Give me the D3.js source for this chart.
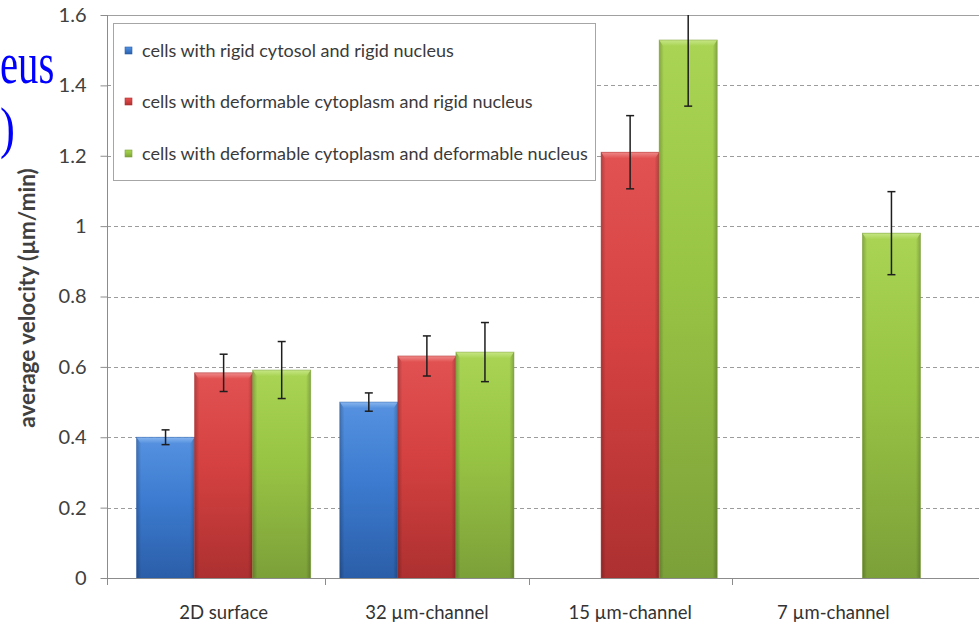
<!DOCTYPE html>
<html>
<head>
<meta charset="utf-8">
<script src="https://cdn.jsdelivr.net/npm/d3@7"></script>
<style>
  html, body { margin: 0; padding: 0; background: #fff; }
  svg { display: block; }
</style>
</head>
<body>
<svg id="chart" width="979" height="627"></svg>
<script>
// ---- data ----
const categories = ["2D surface", "32 µm-channel", "15 µm-channel", "7 µm-channel"];
const seriesNames = [
  "cells with rigid cytosol and rigid nucleus",
  "cells with deformable cytoplasm and rigid nucleus",
  "cells with deformable cytoplasm and deformable nucleus"
];
const rigidRigid      = [0.40, 0.50, null, null];
const rigidRigidErr   = [0.021, 0.026, null, null];
const deformRigid     = [0.583, 0.631, 1.21, null];
const deformRigidErr  = [0.053, 0.057, 0.104, null];
const deformDeform    = [0.591, 0.642, 1.529, 0.98];
const deformDeformErr = [0.081, 0.084, 0.188, 0.118];
const yTicks = [0, 0.2, 0.4, 0.6, 0.8, 1, 1.2, 1.4, 1.6];
const yTitle = "average velocity (µm/min)";

const seriesValues = [rigidRigid, deformRigid, deformDeform];
const seriesErrors = [rigidRigidErr, deformRigidErr, deformDeformErr];
const seriesColors = [
  { top: "#5692e0", mid: "#3c7bd0", bot: "#2b5ea8", hi: "#8fbaf0" },
  { top: "#e25252", mid: "#d54141", bot: "#ad3030", hi: "#f09090" },
  { top: "#a9d454", mid: "#98c444", bot: "#7ca039", hi: "#cbe88c" }
];

const svg = d3.select("#chart");
const W = 979, H = 627;
const axisX = 107, plotTop = 15, plotBottom = 578;
const sans = "Lato, 'Noto Sans', sans-serif";

const x = d3.scaleBand().domain(categories).range([122, 935]).paddingInner(0).paddingOuter(0);
const xs = d3.scaleBand().domain(d3.range(seriesNames.length)).range([0, x.bandwidth()])
  .paddingInner(0).paddingOuter(0.25);
const y = d3.scaleLinear().domain([0, 1.6]).range([plotBottom, plotTop]);

const defs = svg.append("defs");
seriesColors.forEach((c, i) => {
  const v = defs.append("linearGradient").attr("id", "vg" + i)
    .attr("x1", 0).attr("y1", 0).attr("x2", 0).attr("y2", 1);
  v.append("stop").attr("offset", "0%").attr("stop-color", c.top);
  v.append("stop").attr("offset", "45%").attr("stop-color", c.mid);
  v.append("stop").attr("offset", "100%").attr("stop-color", c.bot);
  const t = defs.append("linearGradient").attr("id", "tg" + i)
    .attr("x1", 0).attr("y1", 0).attr("x2", 0).attr("y2", 1);
  t.append("stop").attr("offset", "0%").attr("stop-color", c.hi);
  t.append("stop").attr("offset", "100%").attr("stop-color", c.top);
});
const hg = defs.append("linearGradient").attr("id", "edge")
  .attr("x1", 0).attr("y1", 0).attr("x2", 1).attr("y2", 0);
hg.append("stop").attr("offset", "0%").attr("stop-color", "#000").attr("stop-opacity", 0.22);
hg.append("stop").attr("offset", "8%").attr("stop-color", "#000").attr("stop-opacity", 0.0);
hg.append("stop").attr("offset", "92%").attr("stop-color", "#000").attr("stop-opacity", 0.0);
hg.append("stop").attr("offset", "100%").attr("stop-color", "#000").attr("stop-opacity", 0.22);
defs.append("clipPath").attr("id", "plotClip").append("rect")
  .attr("x", axisX).attr("y", plotTop).attr("width", W - axisX).attr("height", plotBottom - plotTop + 1);

// ---- gridlines ----
svg.append("g").selectAll("line").data(yTicks.filter(t => t > 0 && t < 1.6)).join("line")
  .attr("x1", axisX).attr("x2", W)
  .attr("y1", d => Math.round(y(d)) + 0.5).attr("y2", d => Math.round(y(d)) + 0.5)
  .attr("stroke", "#9c9c9c").attr("stroke-width", 1).attr("stroke-dasharray", "4,3");
// plot frame top
svg.append("line").attr("x1", axisX).attr("x2", W)
  .attr("y1", Math.round(y(1.6)) + 0.5).attr("y2", Math.round(y(1.6)) + 0.5)
  .attr("stroke", "#a0a0a0");

// ---- legend ----
const legend = svg.append("g");
legend.append("rect").attr("x", 113.5).attr("y", 23.5).attr("width", 482).attr("height", 157)
  .attr("fill", "#fff").attr("stroke", "#a6a6a6");
const legRows = [51, 102, 154];
seriesNames.forEach((name, i) => {
  const g = legend.append("g").attr("transform", `translate(125,${legRows[i]})`);
  g.append("rect").attr("x", 0).attr("y", -4).attr("width", 7).attr("height", 7)
    .attr("fill", `url(#vg${i})`).attr("stroke", seriesColors[i].bot).attr("stroke-width", 0.6);
  g.append("text").attr("x", 17).attr("y", 0).attr("dy", "0.35em")
    .attr("font-family", sans).attr("font-size", 18)
    .attr("fill", "#3a3a3a").text(name);
});

// ---- bars ----
const barData = [];
categories.forEach((cat, ci) => {
  seriesValues.forEach((vals, si) => {
    if (vals[ci] != null) barData.push({ cat, si, v: vals[ci], e: seriesErrors[si][ci] });
  });
});
const bars = svg.append("g").selectAll("g").data(barData).join("g")
  .attr("transform", d => `translate(${x(d.cat) + xs(d.si)},0)`);
bars.append("rect")
  .attr("x", 0).attr("y", d => y(d.v)).attr("width", xs.bandwidth()).attr("height", d => y(0) - y(d.v))
  .attr("fill", d => `url(#vg${d.si})`);
bars.append("rect")
  .attr("x", 0).attr("y", d => y(d.v)).attr("width", xs.bandwidth()).attr("height", d => y(0) - y(d.v))
  .attr("fill", "url(#edge)");
// bevelled top edge
bars.append("path")
  .attr("d", d => {
    const t = y(d.v), w = xs.bandwidth();
    return `M0,${t} L${w},${t} L${w - 4},${t + 6} L4,${t + 6} Z`;
  })
  .attr("fill", d => `url(#tg${d.si})`).attr("opacity", 0.9);
bars.append("rect")
  .attr("x", 0).attr("y", d => y(d.v)).attr("width", xs.bandwidth()).attr("height", d => y(0) - y(d.v))
  .attr("fill", "none").attr("stroke", d => seriesColors[d.si].bot).attr("stroke-opacity", 0.6).attr("stroke-width", 0.8);

// ---- error bars ----
const eb = svg.append("g").attr("clip-path", "url(#plotClip)").selectAll("g").data(barData).join("g")
  .attr("transform", d => `translate(${x(d.cat) + xs(d.si) + xs.bandwidth() / 2},0)`)
  .attr("stroke", "#1e1e1e").attr("stroke-width", 1.5);
eb.append("line").attr("x1", 0).attr("x2", 0)
  .attr("y1", d => y(d.v + d.e)).attr("y2", d => y(d.v - d.e));
eb.append("line").attr("x1", -4).attr("x2", 4)
  .attr("y1", d => y(d.v + d.e)).attr("y2", d => y(d.v + d.e));
eb.append("line").attr("x1", -4).attr("x2", 4)
  .attr("y1", d => y(d.v - d.e)).attr("y2", d => y(d.v - d.e));

// ---- axes ----
const yAxis = d3.axisLeft(y).tickValues(yTicks).tickSize(7).tickPadding(14)
  .tickFormat(d => String(+d.toFixed(1)));
const gy = svg.append("g").attr("transform", `translate(${axisX + 0.5},0)`).call(yAxis);
gy.select(".domain").attr("stroke", "#8c8c8c").attr("d", `M0,${plotTop}V${plotBottom + 7}`);
gy.selectAll(".tick line").attr("stroke", "#8c8c8c");
gy.selectAll(".tick text").attr("font-family", sans)
  .attr("font-size", 20).attr("fill", "#404040");

svg.append("line").attr("x1", axisX).attr("x2", W)
  .attr("y1", plotBottom + 0.5).attr("y2", plotBottom + 0.5).attr("stroke", "#8c8c8c");
// category separators
svg.append("g").selectAll("line").data(categories.slice(1)).join("line")
  .attr("x1", d => Math.round(x(d)) + 0.5).attr("x2", d => Math.round(x(d)) + 0.5)
  .attr("y1", plotBottom).attr("y2", plotBottom + 7).attr("stroke", "#8c8c8c");
svg.append("g").selectAll("text").data(categories).join("text")
  .attr("x", d => x(d) + x.bandwidth() / 2).attr("y", 619)
  .attr("text-anchor", "middle")
  .attr("font-family", sans).attr("font-size", 18.5)
  .attr("fill", "#333").text(d => d);

// y-axis title
svg.append("text")
  .attr("transform", `translate(35,298) rotate(-90)`)
  .attr("text-anchor", "middle")
  .attr("font-family", sans).attr("font-size", 22.5).attr("font-weight", 700)
  .attr("fill", "#404040").text(yTitle);

// slide text at the left edge
svg.append("text").attr("transform", "translate(0,83) scale(0.68,1)")
  .attr("font-family", "'Liberation Serif', 'DejaVu Serif', serif").attr("font-size", 60)
  .attr("fill", "#0000ff").text("eus");
svg.append("text").attr("transform", "translate(0,147) scale(0.8,1)")
  .attr("font-family", "'Liberation Serif', 'DejaVu Serif', serif").attr("font-size", 56)
  .attr("fill", "#0000ff").text(")");
</script>
</body>
</html>
